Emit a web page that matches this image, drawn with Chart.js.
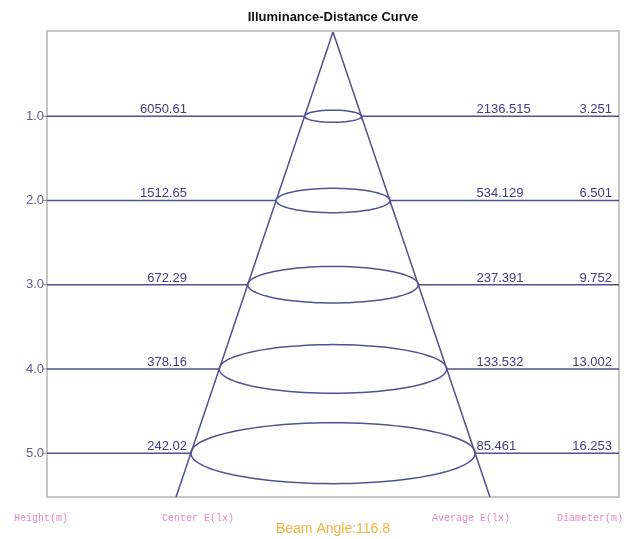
<!DOCTYPE html>
<html>
<head>
<meta charset="utf-8">
<script src="https://cdn.jsdelivr.net/npm/chart.js@4/dist/chart.umd.min.js"></script>
<style>
  html, body { margin: 0; padding: 0; background: #ffffff; }
  #wrap { width: 627px; height: 539px; position: relative; }
</style>
</head>
<body>
<div id="wrap"><canvas id="c" width="627" height="539"></canvas></div>
<script>
// ─── Data ─────────────────────────────────────────────────────────────────────
const heights   = [1.0, 2.0, 3.0, 4.0, 5.0];                 // m
const centerE   = ["6050.61", "1512.65", "672.29", "378.16", "242.02"];
const averageE  = ["2136.515", "534.129", "237.391", "133.532", "85.461"];
const diameters = [3.251, 6.501, 9.752, 13.002, 16.253];     // m
const beamAngle = "116.8";
const footLabels = ["Height(m)", "Center E(lx)", "Average E(lx)", "Diameter(m)"];

// ─── Look ─────────────────────────────────────────────────────────────────────
const X_MIN = -16.35, X_MAX = 16.35;
const Y_MIN = 0, Y_MAX = 5.52;
const TILT = 0.0445;           // flattening of the light spots
const LINE = "#4d5292";
const TEXT = "#3a3f8a";
const SANS = "'Liberation Sans', Arial, sans-serif";

const half = d => d / 2;
const lastR = half(diameters[diameters.length - 1]);
const coneR = lastR * Y_MAX / heights[heights.length - 1];

// horizontal rules, broken where the cone is
const rules = heights.map((h, i) => ({
    data: [
        { x: X_MIN, y: h }, { x: -half(diameters[i]), y: h },
        { x: 0, y: null },
        { x: half(diameters[i]), y: h }, { x: X_MAX, y: h },
    ],
    borderColor: LINE, borderWidth: 1.6, spanGaps: false,
}));

const cone = {
    data: [{ x: -coneR, y: Y_MAX }, { x: 0, y: 0 }, { x: coneR, y: Y_MAX }],
    borderColor: LINE, borderWidth: 1.5,
};

const spots = heights.map((h, i) => {
    const rx = half(diameters[i]);
    const ry = rx * TILT;
    const pts = [];
    for (let k = 0; k <= 96; k++) {
        const t = k / 96 * Math.PI * 2;
        pts.push({ x: rx * Math.cos(t), y: h + ry * Math.sin(t) });
    }
    return { data: pts, borderColor: LINE, borderWidth: 1.5 };
});

// ─── Labels / frame ───────────────────────────────────────────────────────────
const decor = {
    id: "decor",
    beforeDatasetsDraw(chart) {
        const { ctx, chartArea: a } = chart;
        ctx.save();
        ctx.strokeStyle = "#b4b4b4";
        ctx.lineWidth = 1.5;
        ctx.strokeRect(a.left, a.top - 1, a.right - a.left, a.bottom - a.top + 1);
        ctx.restore();
    },
    afterDatasetsDraw(chart) {
        const { ctx, chartArea: a, scales } = chart;
        const sx = scales.x, sy = scales.y;
        ctx.save();

        ctx.fillStyle = "#111";
        ctx.font = "bold 13px " + SANS;
        ctx.textAlign = "center";
        ctx.textBaseline = "middle";
        ctx.fillText("Illuminance-Distance Curve", sx.getPixelForValue(0), 17);

        heights.forEach((h, i) => {
            const y = sy.getPixelForValue(h);
            // y tick
            ctx.strokeStyle = "#8a8ca8";
            ctx.lineWidth = 1;
            ctx.beginPath();
            ctx.moveTo(a.left - 4, y);
            ctx.lineTo(a.left, y);
            ctx.stroke();
            ctx.fillStyle = "#5c6090";
            ctx.font = "13px " + SANS;
            ctx.textAlign = "right";
            ctx.textBaseline = "middle";
            ctx.fillText(h.toFixed(1), a.left - 3, y);

            ctx.fillStyle = TEXT;
            ctx.textBaseline = "alphabetic";
            ctx.textAlign = "right";
            ctx.fillText(centerE[i], sx.getPixelForValue(-8.35), y - 3);
            ctx.textAlign = "left";
            ctx.fillText(averageE[i], sx.getPixelForValue(8.2), y - 3);
            ctx.textAlign = "right";
            ctx.fillText(diameters[i].toFixed(3), sx.getPixelForValue(15.95), y - 3);
        });

        ctx.fillStyle = "#e58ac8";
        ctx.font = "10px 'Liberation Mono', 'DejaVu Sans Mono', monospace";
        ctx.textBaseline = "middle";
        ctx.textAlign = "left";
        const fy = a.bottom + 21;
        ctx.fillText(footLabels[0], 14, fy);
        ctx.fillText(footLabels[1], 162, fy);
        ctx.fillText(footLabels[2], 432, fy);
        ctx.textAlign = "right";
        ctx.fillText(footLabels[3], 623, fy);

        ctx.fillStyle = "#f2b53c";
        ctx.font = "14px " + SANS;
        ctx.textAlign = "center";
        ctx.fillText("Beam Angle:" + beamAngle, sx.getPixelForValue(0), a.bottom + 32);
        ctx.restore();
    },
};

new Chart(document.getElementById("c"), {
    type: "scatter",
    data: { datasets: [...rules, cone, ...spots] },
    options: {
        responsive: false,
        animation: false,
        showLine: true,
        layout: { padding: { left: 47, right: 8, top: 32, bottom: 42 } },
        elements: { point: { radius: 0, hoverRadius: 0 }, line: { tension: 0, fill: false } },
        plugins: { legend: { display: false }, tooltip: { enabled: false } },
        scales: {
            x: { type: "linear", min: X_MIN, max: X_MAX, display: false },
            y: { type: "linear", min: Y_MIN, max: Y_MAX, reverse: true, display: false },
        },
    },
    plugins: [decor],
});
</script>
</body>
</html>
